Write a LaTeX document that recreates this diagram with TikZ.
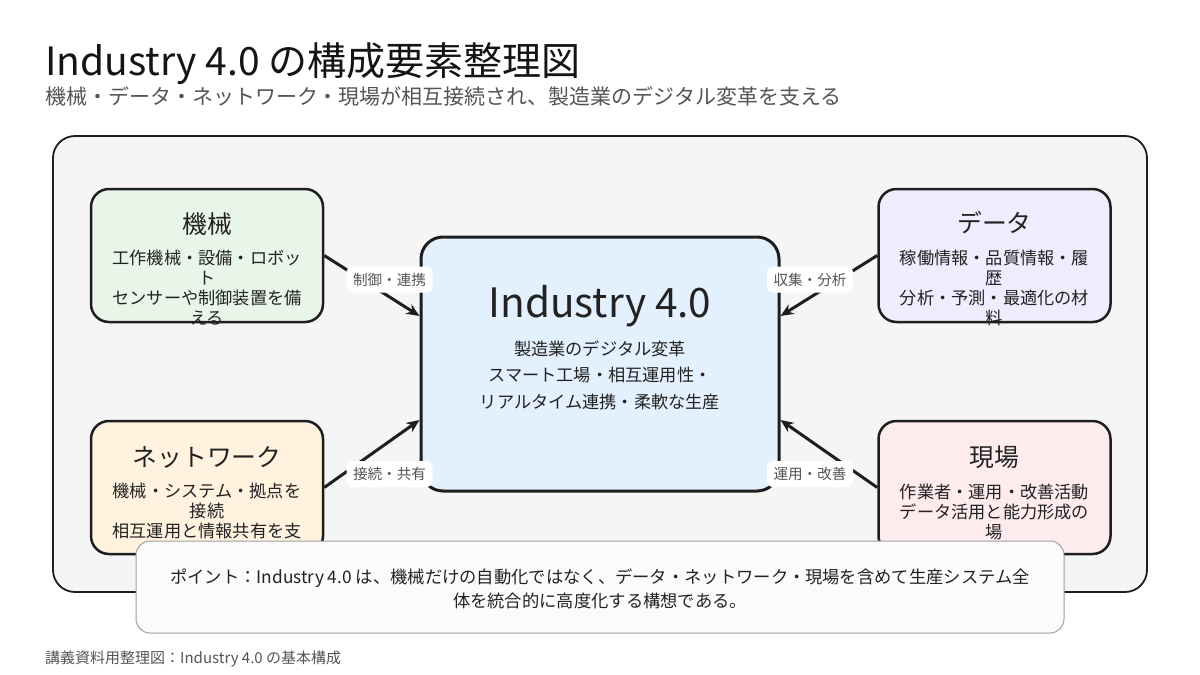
\documentclass[tikz,border=0pt]{standalone}
\usepackage{fontspec}
\setmainfont{Noto Sans CJK JP}
\usetikzlibrary{calc,arrows.meta}
\definecolor{panelgray}{HTML}{F5F5F5}
\definecolor{edge}{HTML}{1E1E1E}
\definecolor{kikaifill}{HTML}{E8F5E9}
\definecolor{datafill}{HTML}{F0EBFD}
\definecolor{netfill}{HTML}{FFF3E0}
\definecolor{genbafill}{HTML}{FDEBEE}
\definecolor{corefill}{HTML}{E3F0FD}
\definecolor{notefill}{HTML}{FBFBFB}
\definecolor{noteedge}{HTML}{A0A0A0}
\definecolor{subgray}{HTML}{555555}
\definecolor{bodytext}{HTML}{222222}
\begin{document}
\begin{tikzpicture}[x=1pt,y=-1pt,
  panel/.style={draw=edge, line width=1.8pt, fill=panelgray, rounded corners=22pt},
  partbox/.style={draw=edge, line width=2.5pt, rounded corners=18pt, minimum width=232pt, minimum height=133pt, inner sep=0pt},
  corebox/.style={draw=edge, line width=3pt, rounded corners=22pt, minimum width=358pt, minimum height=254pt, inner sep=0pt, fill=corefill},
  boxtitle/.style={font=\fontsize{24.8}{28}\selectfont, text=bodytext, inner sep=0pt},
  boxbody/.style={font=\fontsize{17.2}{20}\selectfont, text=bodytext, align=center, inner sep=0pt},
  corebody/.style={font=\fontsize{17.2}{26.5}\selectfont, text=bodytext, align=center, inner sep=0pt},
  lbl/.style={font=\fontsize{14.6}{16}\selectfont, text=subgray, fill=white, rounded corners=6pt, inner xsep=6.5pt, inner ysep=5pt, minimum height=26pt},
  arr/.style={draw=edge, line width=3pt, -{Stealth[length=13pt,width=11pt]}},
  notebox/.style={draw=noteedge, line width=1pt, fill=notefill, rounded corners=14pt, minimum width=928pt, minimum height=92pt, inner sep=0pt},
  notetext/.style={font=\fontsize{17.3}{24}\selectfont, text=bodytext, align=center, inner sep=0pt}
]
\useasboundingbox (0,0) rectangle (1200,675);
\fill[white] (0,0) rectangle (1200,675);

% title, subtitle
\node[anchor=base west, inner sep=0pt, font=\fontsize{39}{44}\selectfont, text=black!92] (title) at (45,75) {Industry 4.0 の構成要素整理図};
\node[anchor=base west, inner sep=0pt, font=\fontsize{21}{24}\selectfont, text=subgray] (subtitle) at (45,104) {機械・データ・ネットワーク・現場が相互接続され、製造業のデジタル変革を支える};

% outer panel
\node[panel, minimum width=1094pt, minimum height=456pt, inner sep=0pt] (panel) at (600,364) {};

% part boxes
\node[partbox, fill=kikaifill] (kikai) at (207,255.5) {};
\node[partbox, fill=datafill] (data) at (994.5,255.5) {};
\node[partbox, fill=netfill] (net) at (207,487.5) {};
\node[partbox, fill=genbafill] (genba) at (994.5,487.5) {};

\node[boxtitle] (kikaiT) at (207,224) {機械};
\node[boxbody] (kikaiB) at (207,287.5) {工作機械・設備・ロボッ\\ト\\センサーや制御装置を備\\える};

\node[boxtitle] (dataT) at (994.5,223) {データ};
\node[boxbody] (dataB) at (994.5,287.5) {稼働情報・品質情報・履\\歴\\分析・予測・最適化の材\\料};

\node[boxtitle] (netT) at (207,457) {ネットワーク};
\node[boxbody] (netB) at (207,510.5) {機械・システム・拠点を\\接続\\相互運用と情報共有を支};

\node[boxtitle] (genbaT) at (994.5,457) {現場};
\node[boxbody] (genbaB) at (994.5,512) {作業者・運用・改善活動\\データ活用と能力形成の\\場};

% core
\node[corebox] (core) at (600,364) {};
\node[anchor=base, inner sep=0pt, font=\fontsize{40.5}{46}\selectfont, text=bodytext] (coreT) at (600,317) {Industry 4.0};
\node[corebody] (coreB) at (600,375) {製造業のデジタル変革\\スマート工場・相互運用性・\\リアルタイム連携・柔軟な生産};

% connectors
\draw[arr] (kikai.east) -- ($(core.west)+(0,-48)$);
\draw[arr] (data.west) -- ($(core.east)+(0,-48)$);
\draw[arr] (net.east) -- ($(core.west)+(0,56)$);
\draw[arr] (genba.west) -- ($(core.east)+(0,56)$);

\node[lbl] (l1) at (389.5,279.5) {制御・連携};
\node[lbl] (l2) at (810,279.5) {収集・分析};
\node[lbl] (l3) at (389.5,474) {接続・共有};
\node[lbl] (l4) at (810,474) {運用・改善};

% note
\node[notebox] (note) at (600,587) {};
\node[notetext] (noteT) at (600,589) {ポイント：Industry 4.0 は、機械だけの自動化ではなく、データ・ネットワーク・現場を含めて生産システム全\\体を統合的に高度化する構想である。};

% footer
\node[anchor=base west, inner sep=0pt, font=\fontsize{15}{18}\selectfont, text=subgray] (footer) at (45,663.5) {講義資料用整理図：Industry 4.0 の基本構成};
\end{tikzpicture}
\end{document}
